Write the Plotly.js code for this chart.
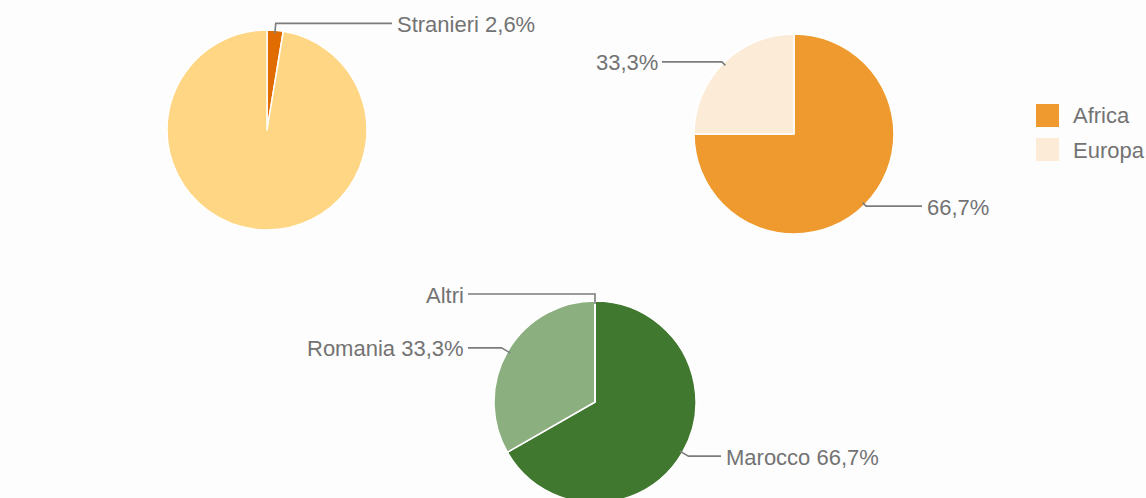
<!DOCTYPE html>
<html>
<head>
<meta charset="utf-8">
<script src="https://cdn.plot.ly/plotly-3.0.1.min.js"></script>
<style>
  html, body { margin: 0; padding: 0; overflow: hidden; background: #fdfdfd; }
  #chart { width: 1146px; height: 520px; }
</style>
</head>
<body>
<div id="chart"></div>
<script>
// ---- data ----
const pie1Labels = ['Stranieri', 'Italiani'];
const pie1Values = [2.6, 97.4];
const pie1Text   = ['Stranieri 2,6%', null];
const pie1Colors = ['#e06c00', '#fed684'];

// slice sizes as drawn in the picture; label texts as printed
const pie2Labels = ['Africa', 'Europa'];
const pie2Values = [75, 25];
const pie2Text   = ['66,7%', '33,3%'];
const pie2Colors = ['#ef9a2e', '#fcebd7'];

const pie3Labels = ['Marocco', 'Romania', 'Altri'];
const pie3Values = [66.7, 33.3, 0];
const pie3Text   = ['Marocco 66,7%', 'Romania 33,3%', 'Altri'];
const pie3Colors = ['#41782f', '#8caf80', '#c9c9c9'];

const legendLabels = pie2Labels;
const legendColors = pie2Colors;

// ---- layout geometry (pixels) ----
const W = 1146, H = 520;
const pies = [
  { labels: pie1Labels, values: pie1Values, text: pie1Text, colors: pie1Colors, cx: 267, cy: 130, r: 100, er: 7, lineEnd: [392, null] },
  { labels: pie2Labels, values: pie2Values, text: pie2Text, colors: pie2Colors, cx: 794, cy: 134, r: 100, er: 2, lineEnd: [922, 662] },
  { labels: pie3Labels, values: pie3Values, text: pie3Text, colors: pie3Colors, cx: 595, cy: 402, r: 101, er: 7, lineEnd: [721, 468, 468] }
];

const px = x => x / W;
const py = y => 1 - y / H;

const traces = [];
const shapes = [];
const annotations = [];
const textColor = '#737373';
const lineColor = '#7c7c7c';
const fontFamily = 'Liberation Sans, Arial, sans-serif';
const fontSize = 22;

pies.forEach(p => {
  traces.push({
    type: 'pie',
    labels: p.labels,
    values: p.values,
    sort: false,
    direction: 'clockwise',
    rotation: 0,
    textinfo: 'none',
    hoverinfo: 'skip',
    showlegend: false,
    marker: { colors: p.colors, line: { color: '#ffffff', width: 1.5 } },
    domain: { x: [px(p.cx - p.r), px(p.cx + p.r)], y: [py(p.cy + p.r), py(p.cy - p.r)] }
  });
  const total = p.values.reduce((a, b) => a + b, 0);
  let cum = 0;
  p.values.forEach((v, i) => {
    const mid = (cum + v / 2) / total * 2 * Math.PI;
    cum += v;
    if (!p.text[i]) return;
    const ar = p.r - 3;
    const ax = p.cx + ar * Math.sin(mid), ay = p.cy - ar * Math.cos(mid);
    const er = p.r + p.er;
    const ex = p.cx + er * Math.sin(mid), ey = p.cy - er * Math.cos(mid);
    const lx = p.lineEnd[i];
    const right = lx > ex;
    shapes.push({
      type: 'path', xref: 'paper', yref: 'paper',
      path: `M ${px(ax)} ${py(ay)} L ${px(ex)} ${py(ey)} L ${px(lx)} ${py(ey)}`,
      line: { color: lineColor, width: 1.6 }
    });
    annotations.push({
      xref: 'paper', yref: 'paper', showarrow: false,
      x: px(lx + (right ? 4 : -3)), y: py(ey + 1),
      xanchor: right ? 'left' : 'right', yanchor: 'middle',
      text: p.text[i], borderpad: 0,
      font: { family: fontFamily, size: fontSize, color: textColor }
    });
  });
});

// legend for the second pie
legendLabels.forEach((lab, i) => {
  const top = 104 + i * 34;
  shapes.push({
    type: 'rect', xref: 'paper', yref: 'paper',
    x0: px(1036), x1: px(1059), y0: py(top + 23), y1: py(top),
    fillcolor: legendColors[i], line: { width: 0 }
  });
  annotations.push({
    xref: 'paper', yref: 'paper', showarrow: false,
    x: px(1072), y: py(top + 12), xanchor: 'left', yanchor: 'middle',
    text: lab, borderpad: 0,
    font: { family: fontFamily, size: fontSize, color: textColor }
  });
});

Plotly.newPlot('chart', traces, {
  width: W, height: H,
  margin: { l: 0, r: 0, t: 0, b: 0 },
  paper_bgcolor: '#fdfdfd',
  plot_bgcolor: '#fdfdfd',
  showlegend: false,
  shapes: shapes,
  annotations: annotations
}, { staticPlot: true, displayModeBar: false });
</script>
</body>
</html>
